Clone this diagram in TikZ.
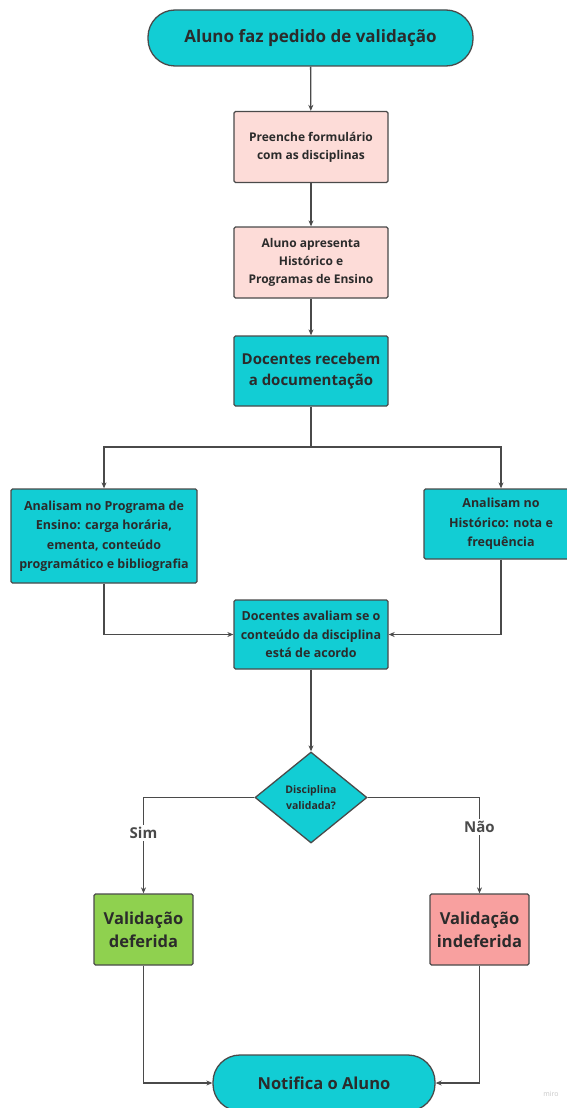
\documentclass[tikz,border=0pt]{standalone}
\usepackage{fontspec}
\setmainfont{Open Sans}
\usetikzlibrary{shapes.geometric,arrows.meta,positioning}
\definecolor{teal}{HTML}{12CDD4}
\definecolor{pinkbox}{HTML}{FDDCD8}
\definecolor{greenbox}{HTML}{8FD14F}
\definecolor{redbox}{HTML}{F8A09F}
\definecolor{edge}{HTML}{4A4A4A}
\definecolor{txt}{HTML}{2B2B2B}
\tikzset{
  base/.style={draw=edge, line width=1.3pt, text=txt, align=center, inner sep=2pt, font=\bfseries},
  term/.style={base, fill=teal, rounded corners=27pt},
  procbox/.style={base, rounded corners=1.5pt},
  conn/.style={draw=edge, line width=1.3pt, -{Stealth[length=6pt,width=5pt]}},
  lbl/.style={fill=white, text=edge, font=\bfseries\fontsize{15}{18}\selectfont, inner sep=2pt}
}
\begin{document}
\begin{tikzpicture}[x=1pt,y=-1pt]
\useasboundingbox (0,0) rectangle (566,1108);
\fill[white] (0,0) rectangle (566,1108);

\node[term, minimum width=325pt, minimum height=56pt, font=\bfseries\fontsize{17}{20}\selectfont] (start) at (310.5,38) {Aluno faz pedido de validação};

\node[procbox, fill=pinkbox, minimum width=154pt, minimum height=71pt, font=\bfseries\fontsize{12}{18}\selectfont] (b1) at (311,147) {Preenche formulário\\com as disciplinas};

\node[procbox, fill=pinkbox, minimum width=154pt, minimum height=71pt, font=\bfseries\fontsize{12}{18}\selectfont] (b2) at (311,262.5) {Aluno apresenta\\Histórico e\\Programas de Ensino};

\node[procbox, fill=teal, minimum width=154pt, minimum height=70pt, font=\bfseries\fontsize{15}{21.5}\selectfont] (b3) at (311,371) {Docentes recebem\\a documentação};

\node[procbox, fill=teal, minimum width=186pt, minimum height=94pt, font=\bfseries\fontsize{12.5}{19.5}\selectfont] (left) at (104,536) {Analisam no Programa de\\Ensino: carga horária,\\ementa, conteúdo\\programático e bibliografia};

\node[procbox, fill=teal, minimum width=154pt, minimum height=70pt, font=\bfseries\fontsize{12.5}{19.5}\selectfont] (right) at (501,524) {Analisam no\\Histórico: nota e\\frequência};

\node[procbox, fill=teal, minimum width=154pt, minimum height=69pt, font=\bfseries\fontsize{12.5}{18.6}\selectfont] (b6) at (311,634.5) {Docentes avaliam se o\\conteúdo da disciplina\\está de acordo};

\node[base, diamond, fill=teal, inner sep=1pt, minimum width=112pt, minimum height=91pt, font=\bfseries\fontsize{10.5}{15.5}\selectfont] (dia) at (311,797.5) {Disciplina\\validada?};

\node[procbox, fill=greenbox, minimum width=99pt, minimum height=71pt, font=\bfseries\fontsize{16.5}{22.7}\selectfont] (green) at (143.5,929.5) {Validação\\deferida};

\node[procbox, fill=redbox, minimum width=99pt, minimum height=71pt, font=\bfseries\fontsize{16.5}{22.7}\selectfont] (red) at (479.5,929.5) {Validação\\indeferida};

\node[term, minimum width=222pt, minimum height=56pt, font=\bfseries\fontsize{16.5}{20}\selectfont] (end) at (324,1083) {Notifica o Aluno};

\coordinate (split) at (311,447);

\draw[conn] (start) -- (b1);
\draw[conn] (b1) -- (b2);
\draw[conn] (b2) -- (b3);
\draw[draw=edge, line width=1.3pt] (b3.south) -- (split);
\draw[conn] (split) -| (left.north);
\draw[conn] (split) -| (right.north);
\draw[conn] (left.south) |- (b6.west);
\draw[conn] (right.south) |- (b6.east);
\draw[conn] (b6) -- (dia.north);
\draw[conn] (dia.west) -| node[lbl, pos=0.685] {Sim} (green.north);
\draw[conn] (dia.east) -| node[lbl, pos=0.653] {Não} (red.north);
\draw[conn] (green.south) |- (end.west);
\draw[conn] (red.south) |- (end.east);

\node[text=black!22, font=\fontsize{7}{8}\selectfont] (miro) at (551,1094) {miro};
\end{tikzpicture}
\end{document}
